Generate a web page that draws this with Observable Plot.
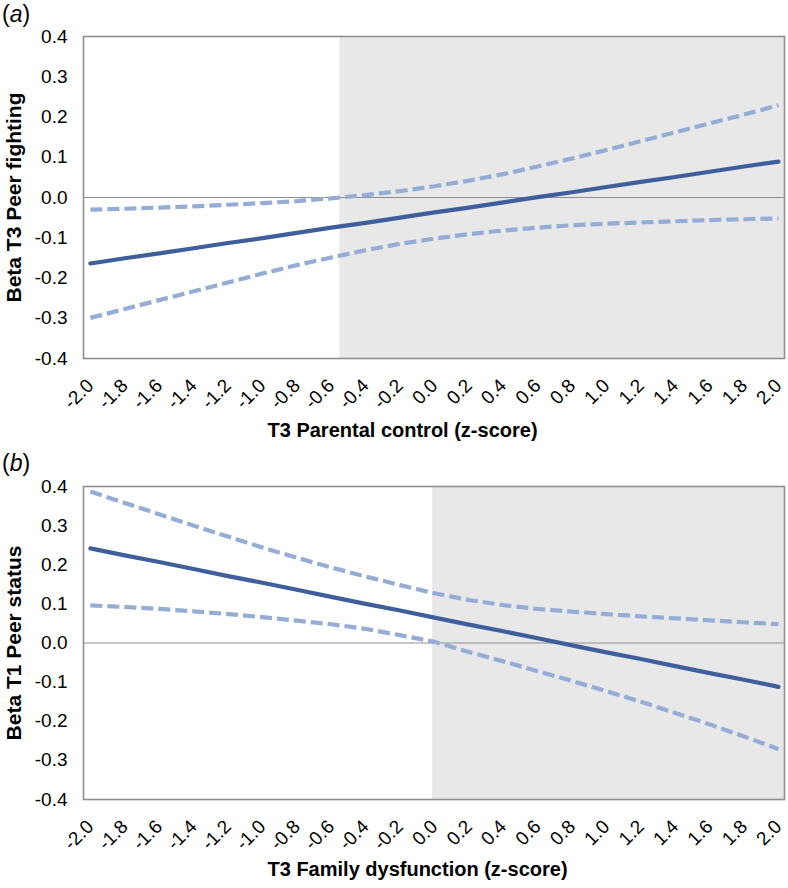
<!DOCTYPE html>
<html>
<head>
<meta charset="utf-8">
<script src="https://cdn.jsdelivr.net/npm/d3@7"></script>
<script src="https://cdn.jsdelivr.net/npm/@observablehq/plot@0.6"></script>
<style>
  body { margin: 0; background: #fff; font-family: "Liberation Sans", Arial, sans-serif; }
  #wrap { position: relative; width: 788px; height: 888px; }
  .panel-label { position: absolute; left: 2px; font-size: 23px; color: #000; line-height: 1; }
  .panel-label i { font-style: italic; }
  svg { display: block; }
</style>
</head>
<body>
<div id="wrap">
  <div id="plotA"></div>
  <div id="plotB"></div>
  <div class="panel-label" style="top:3px">(<i>a</i>)</div>
  <div class="panel-label" style="top:452px">(<i>b</i>)</div>
</div>
<script>
// ---- data ----
const xTicks = [-2.0, -1.8, -1.6, -1.4, -1.2, -1.0, -0.8, -0.6, -0.4, -0.2, 0.0, 0.2, 0.4, 0.6, 0.8, 1.0, 1.2, 1.4, 1.6, 1.8, 2.0];
const yTicks = [-0.4, -0.3, -0.2, -0.1, 0.0, 0.1, 0.2, 0.3, 0.4];

// Panel (a): T3 Parental control -> Beta T3 Peer fighting
const fightBeta  = [-0.164, -0.151, -0.139, -0.126, -0.113, -0.101, -0.088, -0.075, -0.063, -0.050, -0.037, -0.025, -0.012, 0.001, 0.013, 0.026, 0.039, 0.051, 0.064, 0.077, 0.089];
const fightUpper = [-0.030, -0.028, -0.025, -0.022, -0.018, -0.014, -0.009, -0.002, 0.006, 0.016, 0.028, 0.042, 0.058, 0.077, 0.097, 0.118, 0.140, 0.162, 0.184, 0.206, 0.229];
const fightLower = [-0.299, -0.277, -0.255, -0.233, -0.211, -0.189, -0.168, -0.149, -0.131, -0.115, -0.102, -0.091, -0.082, -0.075, -0.069, -0.065, -0.062, -0.059, -0.056, -0.054, -0.052];
const fightShadeStart = [-0.55];

// Panel (b): T3 Family dysfunction -> Beta T1 Peer status
const statusBeta  = [0.242, 0.224, 0.207, 0.189, 0.171, 0.154, 0.136, 0.118, 0.100, 0.083, 0.065, 0.047, 0.030, 0.012, -0.006, -0.024, -0.041, -0.059, -0.077, -0.094, -0.112];
const statusUpper = [0.387, 0.358, 0.329, 0.300, 0.272, 0.244, 0.218, 0.193, 0.170, 0.148, 0.127, 0.110, 0.097, 0.087, 0.080, 0.074, 0.068, 0.063, 0.058, 0.053, 0.048];
const statusLower = [0.096, 0.092, 0.087, 0.081, 0.074, 0.066, 0.057, 0.048, 0.036, 0.020, 0.003, -0.023, -0.047, -0.072, -0.097, -0.123, -0.150, -0.179, -0.208, -0.239, -0.271];
const statusShadeStart = [-0.01];

const xDomain = [-2.04, 2.035];
const yDomain = [-0.4, 0.4];

const fmt = d => (Math.abs(d) < 1e-9 ? 0 : d).toFixed(1);

function panel({beta, upper, lower, shadeStart, yTitle, xTitle, height, marginBottom, titleDy}) {
  const rows = arr => xTicks.map((x, i) => ({x, y: arr[i]}));
  return Plot.plot({
    width: 788,
    height,
    marginTop: 36,
    marginBottom,
    marginLeft: 83,
    marginRight: 4,
    style: {fontFamily: "'Liberation Sans', Arial, sans-serif", color: "#000", background: "#fff", overflow: "visible"},
    x: {domain: xDomain},
    y: {domain: yDomain},
    marks: [
      Plot.rect(shadeStart.map(s => ({x1: s, x2: xDomain[1]})), {x1: "x1", x2: "x2", y1: yDomain[0], y2: yDomain[1], fill: "#e8e8e8"}),
      Plot.ruleY([0], {stroke: "#8f8f8f", strokeWidth: 1.2}),
      Plot.frame({stroke: "#8f8f8f", strokeWidth: 1.6}),
      Plot.line(rows(upper), {x: "x", y: "y", stroke: "#94acd6", strokeWidth: 4.2, strokeDasharray: "12,5", strokeLinecap: "butt"}),
      Plot.line(rows(lower), {x: "x", y: "y", stroke: "#94acd6", strokeWidth: 4.2, strokeDasharray: "12,5", strokeLinecap: "butt"}),
      Plot.line(rows(beta), {x: "x", y: "y", stroke: "#3e5f9c", strokeWidth: 4.2}),
      Plot.axisY({ticks: yTicks, tickFormat: fmt, tickSize: 0, tickPadding: 16, fontSize: 19, label: null}),
      Plot.axisX({ticks: xTicks, tickFormat: fmt, tickSize: 0, tickPadding: 24, tickRotate: -45, fontSize: 19, label: null}),
      Plot.text([yTitle], {frameAnchor: "left", dx: -69, rotate: -90, textAnchor: "middle", fontSize: 21, fontWeight: "bold"}),
      Plot.text([xTitle], {frameAnchor: "bottom-left", dx: 184, dy: titleDy, textAnchor: "start", fontSize: 20, fontWeight: "bold"})
    ]
  });
}

document.getElementById("plotA").append(panel({
  beta: fightBeta, upper: fightUpper, lower: fightLower, shadeStart: fightShadeStart,
  yTitle: "Beta T3 Peer fighting", xTitle: "T3 Parental control (z-score)",
  height: 450, marginBottom: 92, titleDy: 78
}));
document.getElementById("plotB").append(panel({
  beta: statusBeta, upper: statusUpper, lower: statusLower, shadeStart: statusShadeStart,
  yTitle: "Beta T1 Peer status", xTitle: "T3 Family dysfunction (z-score)",
  height: 438, marginBottom: 89, titleDy: 76
}));
</script>
</body>
</html>
